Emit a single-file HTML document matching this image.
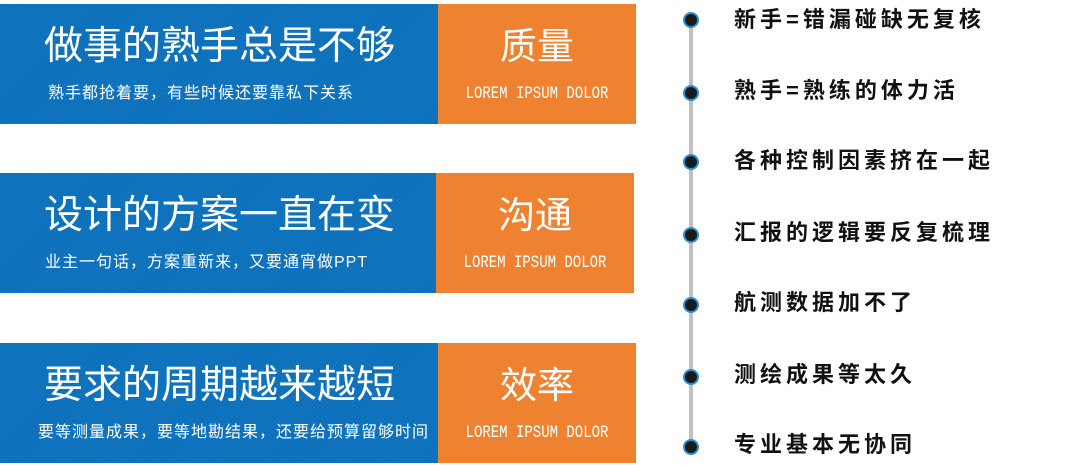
<!DOCTYPE html>
<html><head><meta charset="utf-8"><style>
body{margin:0;width:1080px;height:465px;background:#fff;position:relative;overflow:hidden;font-family:"Liberation Sans","Noto Sans CJK SC",sans-serif}
.b{position:absolute;left:0;width:438px;height:120px;background:#0b70bb;background-image:repeating-linear-gradient(135deg,rgba(255,255,255,0.05) 0 1px,rgba(0,0,0,0) 1px 3px);color:#fff}
.o{position:absolute;width:198px;height:120px;background:#ef8230;color:#fff;text-align:center}
.t{position:absolute;top:20px;font-size:39px;line-height:46px;white-space:nowrap}
.s{position:absolute;top:79px;font-size:16px;line-height:22px;letter-spacing:1px;white-space:nowrap}
.ot{position:absolute;left:0;right:0;top:21px;font-size:37px;line-height:44px}
.ol{position:absolute;left:0;right:0;top:78px;font-size:14px;line-height:24px;font-family:"Liberation Mono",monospace;transform:scaleY(1.25)}
.line{position:absolute;left:689px;top:20px;width:4px;height:427px;background:#c0c0c0}
.d{position:absolute;left:683px;width:16px;height:16px;border-radius:50%;background:#1a1a1a;border:2px solid #2d8fd0;box-sizing:border-box;margin-top:-8px}
.tx{position:absolute;left:734px;font-size:22px;line-height:26px;margin-top:-13px;font-weight:bold;letter-spacing:4px;color:#111;white-space:nowrap}
</style></head><body>
<div class="b" style="top:4px"><div class="t" style="left:44px">做事的熟手总是不够</div><div class="s" style="left:48px">熟手都抢着要，有些时候还要靠私下关系</div></div>
<div class="o" style="left:438px;top:4px"><div class="ot">质量</div><div class="ol">LOREM IPSUM DOLOR</div></div>
<div class="b" style="top:173px;width:436px"><div class="t" style="left:44px">设计的方案一直在变</div><div class="s" style="left:45px">业主一句话，方案重新来，又要通宵做PPT</div></div>
<div class="o" style="left:436px;top:173px"><div class="ot">沟通</div><div class="ol">LOREM IPSUM DOLOR</div></div>
<div class="b" style="top:343px"><div class="t" style="left:44px">要求的周期越来越短</div><div class="s" style="left:38px">要等测量成果，要等地勘结果，还要给预算留够时间</div></div>
<div class="o" style="left:438px;top:343px"><div class="ot">效率</div><div class="ol">LOREM IPSUM DOLOR</div></div>
<div class="line"></div>
<div class="d" style="top:20px"></div><div class="tx" style="top:20px">新手=错漏碰缺无复核</div>
<div class="d" style="top:93px"></div><div class="tx" style="top:91px">熟手=熟练的体力活</div>
<div class="d" style="top:162px"></div><div class="tx" style="top:161px">各种控制因素挤在一起</div>
<div class="d" style="top:235px"></div><div class="tx" style="top:233px">汇报的逻辑要反复梳理</div>
<div class="d" style="top:305px"></div><div class="tx" style="top:303px">航测数据加不了</div>
<div class="d" style="top:377px"></div><div class="tx" style="top:375px">测绘成果等太久</div>
<div class="d" style="top:447px"></div><div class="tx" style="top:445px">专业基本无协同</div>
</body></html>
